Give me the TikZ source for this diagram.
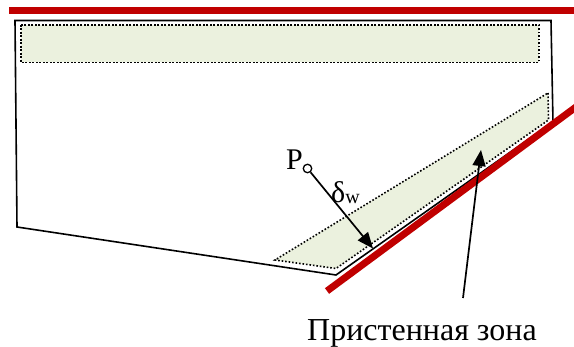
\documentclass[tikz,border=0pt]{standalone}
\usepackage{fontspec}
\setmainfont{Liberation Serif}
\usetikzlibrary{arrows.meta}
\definecolor{wallred}{HTML}{C00000}
\definecolor{zonegreen}{HTML}{EBF1DE}
\tikzset{
  outline/.style={draw=black, line width=1.6pt, line join=miter},
  wall/.style={draw=wallred, line width=7pt},
  zone/.style={draw=black, fill=zonegreen, line width=1.6pt, dash pattern=on 1.6pt off 1.9pt},
  pointer/.style={draw=black, line width=1.7pt, -{Triangle[length=16pt,width=13pt]}},
}
\begin{document}
\begin{tikzpicture}[x=1pt,y=-1pt]
\useasboundingbox (0,0) rectangle (574,347);
% polygon vertices
\coordinate (v1) at (15,20.5);
\coordinate (v2) at (551,20.5);
\coordinate (v3) at (553,122);
\coordinate (v4) at (336,275);
\coordinate (v5) at (17,227);
% walls
\coordinate (w1) at (9,10.5);
\coordinate (w2) at (574,10.5);
\coordinate (w3) at (327,291);
\coordinate (w4) at (576,107);
% zones
\coordinate (z1) at (21,25);
\coordinate (z2) at (539,62.5);
\coordinate (s1) at (548,93);
\coordinate (s2) at (548.5,120);
\coordinate (s3) at (336,268.5);
\coordinate (s4) at (275,260);
% green zones
\path[zone] (z1) rectangle (z2);
\path[zone] (s1) -- (s2) -- (s3) -- (s4) -- cycle;
% outline
\draw[outline] (v1) -- (v2) -- (v3) -- (v4) -- (v5) -- cycle;
% walls
\draw[wall] (w1) -- (w2);
\draw[wall] (w3) -- (w4);
% point P
\node[circle, draw=black, fill=white, line width=1.3pt, inner sep=0pt, minimum size=8.5pt] (p) at (307.5,168.5) {};
\node[anchor=base east, font=\fontsize{30}{32}\selectfont, inner sep=0pt] (plabel) at (303,169.5) {P};
\coordinate (tip) at (373,248.5);
\draw[pointer] (p) -- (tip);
\node[anchor=base west, inner sep=0pt, font=\fontsize{30}{32}\selectfont] (delta) at (331,203) {δ\raisebox{-1pt}{\fontsize{20}{22}\selectfont w}};
% zone label
\node[anchor=base west, inner sep=0pt, font=\fontsize{32}{35}\selectfont] (zlabel) at (307,340.5) {Пристенная зона};
\coordinate (zstart) at (463,298);
\coordinate (ztip) at (481,150);
\draw[pointer] (zstart) -- (ztip);
\end{tikzpicture}
\end{document}
